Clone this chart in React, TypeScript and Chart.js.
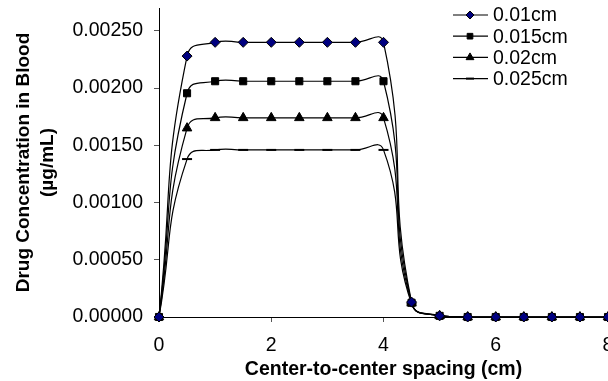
import React, { useEffect, useRef } from "react";
import { Chart, registerables } from "chart.js";
import { drawPoint } from "chart.js/helpers";

Chart.register(...registerables);

const xValues = [0, 0.5, 1, 1.5, 2, 2.5, 3, 3.5, 4, 4.5, 5, 5.5, 6, 6.5, 7, 7.5, 8];
const seriesLabels = ["0.01cm", "0.015cm", "0.02cm", "0.025cm"];
const s001 = [0, 0.00228, 0.0024, 0.0024, 0.0024, 0.0024, 0.0024, 0.0024, 0.0024, 0.00013, 0.00001, 0, 0, 0, 0, 0, 0];
const s0015 = [0, 0.001955, 0.00206, 0.00206, 0.00206, 0.00206, 0.00206, 0.00206, 0.00206, 0.000125, 0.00001, 0, 0, 0, 0, 0, 0];
const s002 = [0, 0.00165, 0.00174, 0.00174, 0.00174, 0.00174, 0.00174, 0.00174, 0.00174, 0.00012, 0.00001, 0, 0, 0, 0, 0, 0];
const s0025 = [0, 0.00138, 0.00146, 0.00146, 0.00146, 0.00146, 0.00146, 0.00146, 0.00146, 0.000115, 0.00001, 0, 0, 0, 0, 0, 0];
const xTitle = "Center-to-center spacing (cm)";
const yTitle = ["Drug Concentration in Blood", "(µg/mL)"];

const FONT = "'Liberation Sans', Arial, sans-serif";

const styles = [
  { pointStyle: "rectRot", radius: 5, bg: "#000080", border: "#000000", bw: 1, lr: 4 },
  { pointStyle: "rect", radius: 5, bg: "#000000", border: "#000000", bw: 1, lr: 4 },
  { pointStyle: "triangle", radius: 5.5, bg: "#000000", border: "#000000", bw: 1, lr: 4.5 },
  { pointStyle: "line", radius: 5, bg: "#000000", border: "#000000", bw: 2, lr: 4 },
];

const legendPlugin = {
  id: "customLegend",
  afterDraw(chart: any) {
    const ctx = chart.ctx;
    ctx.save();
    seriesLabels.forEach((lab, i) => {
      const y = 15 + i * 21.2;
      ctx.strokeStyle = "#000";
      ctx.lineWidth = 1.2;
      ctx.beginPath();
      ctx.moveTo(453, y);
      ctx.lineTo(488, y);
      ctx.stroke();
      const st = styles[i];
      ctx.fillStyle = st.bg;
      ctx.strokeStyle = st.border;
      ctx.lineWidth = st.bw;
      drawPoint(ctx, { pointStyle: st.pointStyle, radius: st.lr, borderWidth: st.bw, rotation: 0 } as any, 470, y);
      ctx.fillStyle = "#000";
      ctx.font = `19.5px ${FONT}`;
      ctx.textAlign = "left";
      ctx.textBaseline = "middle";
      ctx.fillText(lab, 493, y + 1);
    });
    ctx.restore();
  },
};

export default function App() {
  const ref = useRef<HTMLCanvasElement | null>(null);
  useEffect(() => {
    if (!ref.current) return;
    const all = [s001, s0015, s002, s0025];
    const chart = new Chart(ref.current, {
      type: "line",
      data: {
        datasets: all.map((arr, i) => ({
          label: seriesLabels[i],
          data: arr.map((v, j) => ({ x: xValues[j], y: v })),
          borderColor: "#000000",
          borderWidth: 1.2,
          backgroundColor: styles[i].bg,
          pointStyle: styles[i].pointStyle as any,
          pointRadius: styles[i].radius,
          pointBackgroundColor: styles[i].bg,
          pointBorderColor: styles[i].border,
          pointBorderWidth: styles[i].bw,
          tension: 0.5,
          fill: false,
          clip: false as any,
        })),
      },
      options: {
        animation: false,
        responsive: false,
        devicePixelRatio: 1,
        layout: { autoPadding: false, padding: { top: 8, left: 0, right: 0, bottom: 0 } },
        plugins: { legend: { display: false }, tooltip: { enabled: false } },
        scales: {
          x: {
            type: "linear",
            min: 0,
            max: 8,
            ticks: { stepSize: 2, color: "#000", font: { family: FONT, size: 19.5 }, padding: 12, maxRotation: 0 },
            grid: { drawOnChartArea: false, color: "#000", tickLength: 5, tickColor: "#555" },
            border: { color: "#000", width: 1 },
            title: { display: true, text: xTitle, color: "#000", font: { family: FONT, size: 19.5, weight: "bold" }, padding: { top: 0, bottom: 0 } },
            afterFit: (s: any) => {
              s.height = 64;
              s.paddingLeft = 0;
              s.paddingRight = 0;
            },
          },
          y: {
            type: "linear",
            min: 0,
            max: 0.0027,
            ticks: {
              stepSize: 0.0005,
              color: "#000",
              font: { family: FONT, size: 19.5 },
              padding: 11,
              callback: (v: any) => Number(v).toFixed(5),
            },
            afterBuildTicks: (s: any) => {
              s.ticks = s.ticks.filter((t: any) => Math.abs(t.value / 0.0005 - Math.round(t.value / 0.0005)) < 1e-6);
            },
            grid: { drawOnChartArea: false, color: "#000", tickLength: 5, tickColor: "#555" },
            border: { color: "#000", width: 1 },
            title: { display: true, text: yTitle, color: "#000", font: { family: FONT, size: 19, weight: "bold", lineHeight: 1.3 }, padding: { top: 11, bottom: 0 } },
            afterFit: (s: any) => {
              s.width = 159;
              s.paddingTop = 0;
              s.paddingBottom = 0;
            },
          },
        },
      },
      plugins: [legendPlugin],
    });
    return () => chart.destroy();
  }, []);
  return (
    <div style={{ position: "fixed", left: 0, top: 0, width: 608, height: 381, overflow: "hidden", background: "#fff" }}>
      <canvas ref={ref} width={608} height={381} style={{ display: "block" }} />
    </div>
  );
}
